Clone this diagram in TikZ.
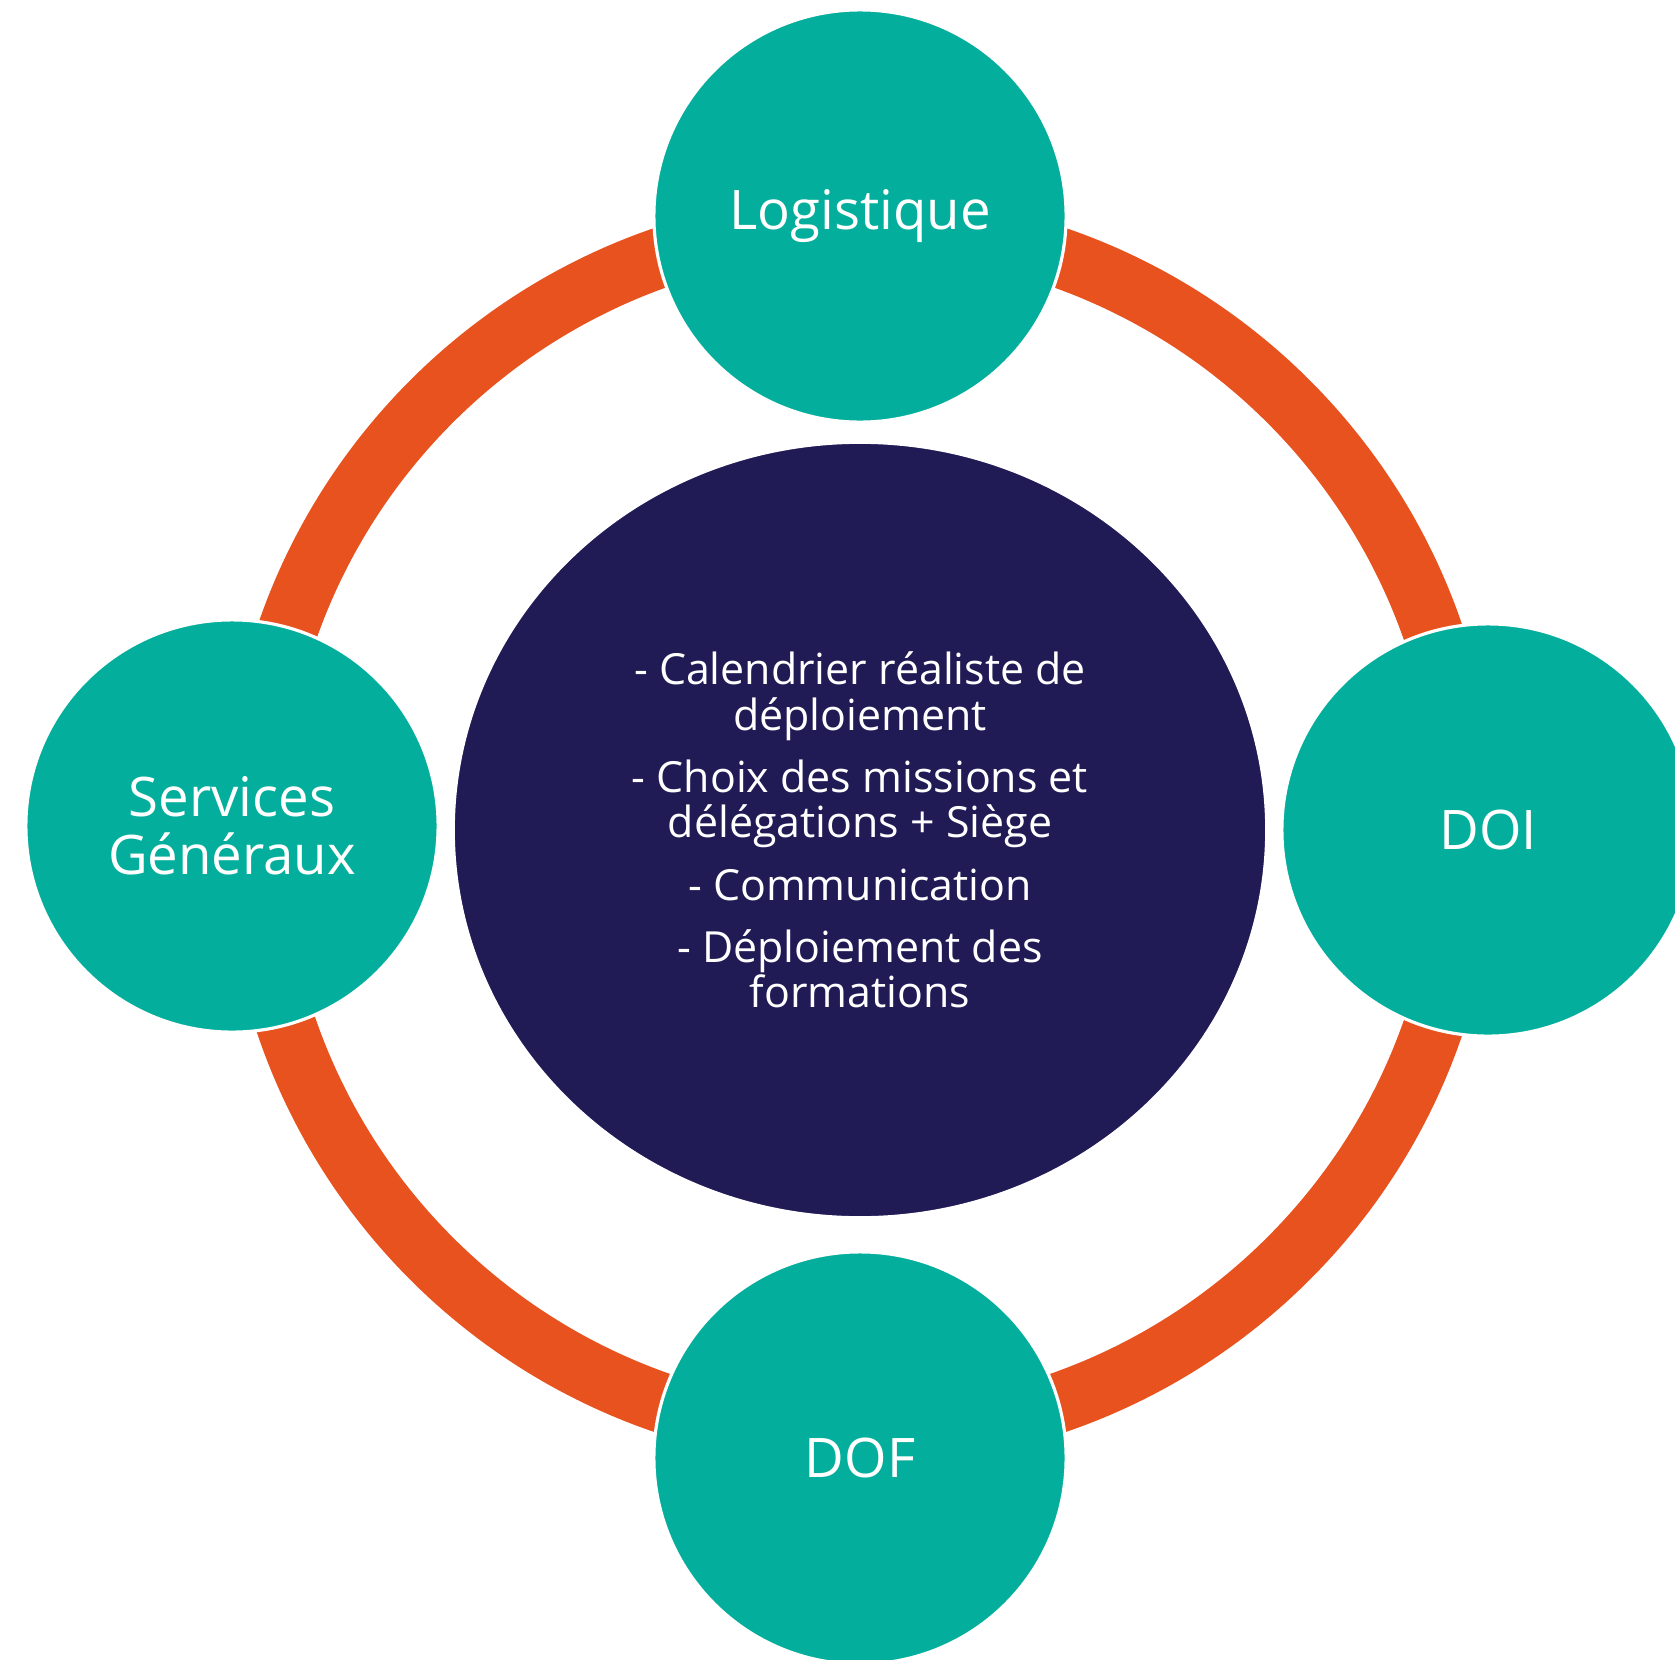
\documentclass[tikz,border=0pt]{standalone}
\usepackage{fontspec}
\setmainfont{Open Sans}
\usetikzlibrary{shapes.geometric}

\definecolor{bubbleteal}{HTML}{03AF9C}
\definecolor{ringorange}{HTML}{E8521F}
\definecolor{hubnavy}{HTML}{201A55}

\tikzset{
  bubble/.style={circle, fill=bubbleteal, draw=white, line width=0.9pt,
    minimum size=4.12cm, inner sep=0pt, text=white, align=center,
    font=\fontsize{15.45bp}{16.5bp}\selectfont},
  hub/.style={ellipse, fill=hubnavy, draw=white, line width=0.9pt,
    minimum width=8.13cm, minimum height=7.75cm, inner sep=0pt,
    text=white, align=center, font=\fontsize{12.15bp}{12.8bp}\selectfont},
  ring/.style={draw=ringorange, line width=0.6cm}
}

\begin{document}
\begin{tikzpicture}[x=0.01cm,y=-0.01cm]
    \useasboundingbox (0,0) rectangle (1675,1660);
    \clip (0,0) rectangle (1675,1660);
    % orange ring behind everything
    \coordinate (mid) at (860,830);
    \draw[ring] (mid) circle [radius=606];
    % centre
    \node[hub] (plan) at (mid) {- Calendrier réaliste de\\déploiement\\[4.9pt]
        - Choix des missions et\\délégations + Siège\\[4.9pt]
        - Communication\\[4.9pt]
        - Déploiement des\\formations};
    % the four services
    \node[bubble] (logi) at (860,216) {Logistique};
    \node[bubble] (doi) at (1488,830) {DOI};
    \node[bubble] (dof) at (860,1458) {DOF};
    \node[bubble] (serv) at (232,826) {Services\\Généraux};
\end{tikzpicture}
\end{document}
